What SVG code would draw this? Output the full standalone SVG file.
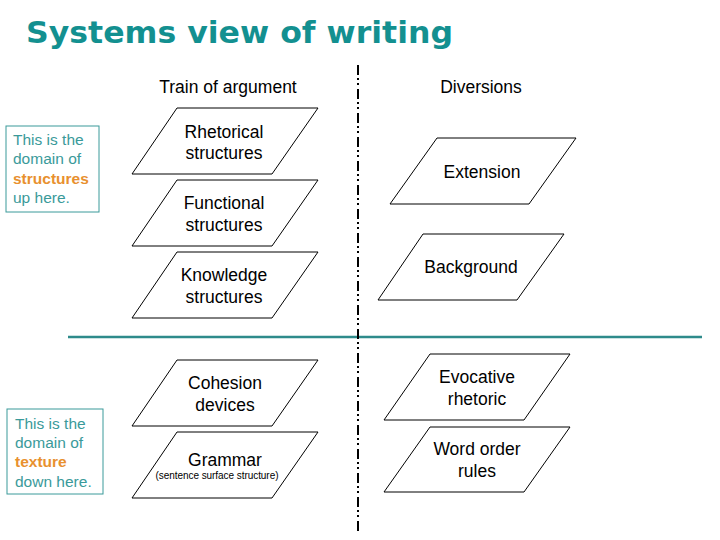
<svg xmlns="http://www.w3.org/2000/svg" width="720" height="540" viewBox="0 0 720 540">
<style>
.shape{fill:#ffffff;stroke:#000000;stroke-width:1}
.lbl{font-family:"Liberation Sans",Arial,sans-serif;font-size:17.5px;fill:#000000;text-anchor:middle}
.small{font-family:"Liberation Sans",Arial,sans-serif;font-size:10px;fill:#000000;text-anchor:middle}
.note{font-family:"Liberation Sans",Arial,sans-serif;font-size:15.5px;fill:#3a9a9a}
.hl{font-weight:bold;fill:#e8902e}
.notebox{fill:#ffffff;stroke:#3a9a9a;stroke-width:1}
</style>
<rect x="0" y="0" width="720" height="540" fill="#ffffff"/>
<text x="26" y="43" font-family="'DejaVu Sans',Verdana,sans-serif" font-weight="bold" font-size="31" fill="#139090" textLength="427" lengthAdjust="spacingAndGlyphs">Systems view of writing</text>

<g id="connectors">
<line x1="68" y1="337" x2="702" y2="337" stroke="#2e8b8b" stroke-width="2.5"/>
<line x1="358" y1="65" x2="358" y2="532" stroke="#000000" stroke-width="2" stroke-dasharray="10 3 2 3 2 4"/>
</g>

<text class="lbl" x="228" y="93">Train of argument</text>
<text class="lbl" x="481" y="93">Diversions</text>

<g id="note-structures">
<rect class="notebox" x="6" y="126" width="93" height="86"/>
<text class="note" x="13" y="145">This is the</text>
<text class="note" x="13" y="164">domain of</text>
<text class="note hl" x="13" y="184">structures</text>
<text class="note" x="13" y="203">up here.</text>
</g>

<g id="note-texture">
<rect class="notebox" x="7" y="409" width="96" height="85"/>
<text class="note" x="15" y="429">This is the</text>
<text class="note" x="15" y="448">domain of</text>
<text class="note hl" x="15" y="467">texture</text>
<text class="note" x="15" y="487">down here.</text>
</g>

<g id="rhetorical">
<polygon class="shape" points="177,108 318,108 272,174 132,174"/>
<text class="lbl" x="224" y="138">Rhetorical</text>
<text class="lbl" x="224" y="159">structures</text>
</g>
<g id="functional">
<polygon class="shape" points="177,180 318,180 272,246 132,246"/>
<text class="lbl" x="224" y="209">Functional</text>
<text class="lbl" x="224" y="231">structures</text>
</g>
<g id="knowledge">
<polygon class="shape" points="177,252 318,252 272,318 132,318"/>
<text class="lbl" x="224" y="281">Knowledge</text>
<text class="lbl" x="224" y="303">structures</text>
</g>
<g id="cohesion">
<polygon class="shape" points="177,360 318,360 272,426 132,426"/>
<text class="lbl" x="225" y="389">Cohesion</text>
<text class="lbl" x="225" y="411">devices</text>
</g>
<g id="grammar">
<polygon class="shape" points="177,432 318,432 272,498 132,498"/>
<text class="lbl" x="225" y="466">Grammar</text>
<text class="small" x="217" y="479" textLength="123" lengthAdjust="spacing">(sentence surface structure)</text>
</g>

<g id="extension">
<polygon class="shape" points="437,138 576,138 529,204 390,204"/>
<text class="lbl" x="482" y="178">Extension</text>
</g>
<g id="background">
<polygon class="shape" points="423,234 564,234 517,300 378,300"/>
<text class="lbl" x="471" y="273">Background</text>
</g>
<g id="evocative">
<polygon class="shape" points="430,354 570,354 524,420 384,420"/>
<text class="lbl" x="477" y="383">Evocative</text>
<text class="lbl" x="477" y="405">rhetoric</text>
</g>
<g id="wordorder">
<polygon class="shape" points="430,427 570,427 524,492 384,492"/>
<text class="lbl" x="477" y="455">Word order</text>
<text class="lbl" x="477" y="477">rules</text>
</g>
</svg>
